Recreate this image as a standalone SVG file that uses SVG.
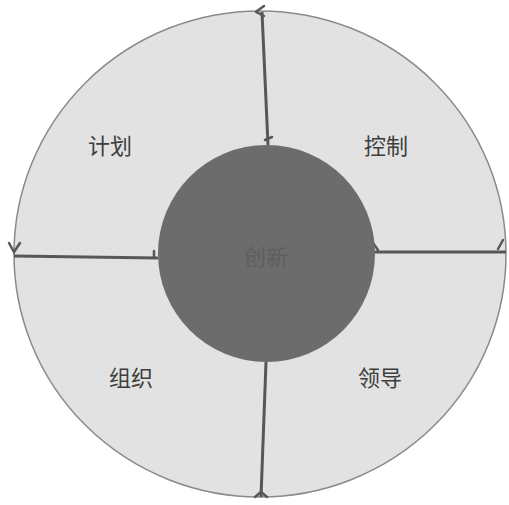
<svg xmlns="http://www.w3.org/2000/svg" width="509" height="505" viewBox="0 0 509 505">
<style>
.lbl{font-family:"Noto Sans CJK SC","Noto Sans",sans-serif;font-size:22px;fill:#3e3e3e;text-anchor:middle}
.ln{stroke:#575757;stroke-width:3;fill:none}
.ah{stroke:#575757;stroke-width:2.5;fill:none;stroke-linecap:round}
</style>
<rect width="509" height="505" fill="#ffffff"/>
<g id="outer">
<ellipse cx="260" cy="254" rx="246" ry="243" fill="#e2e2e2" stroke="#8a8a8a" stroke-width="1.5"/>
</g>
<g id="connectors">
<line class="ln" x1="262" y1="12" x2="268" y2="145"/>
<line class="ln" x1="14" y1="256" x2="158" y2="258"/>
<line class="ln" x1="375" y1="252" x2="506" y2="252"/>
<line class="ln" x1="266" y1="362" x2="261" y2="497"/>
<path class="ah" d="M257 11 L264 6 M256 12 L264 16"/>
<path class="ah" d="M9 243 L14 252 L20 243"/>
<path class="ah" d="M498 249 L503 240"/>
<path class="ah" d="M265 140 L272 137"/>
<path class="ah" d="M154 258 L154 251"/>
<path class="ah" d="M378 250 L373 243"/>
<path class="ah" d="M255 497 L261 492 L267 497"/>
</g>
<g id="inner">
<circle cx="266.5" cy="253.5" r="108.5" fill="#6c6c6c"/>
<text class="lbl" x="266" y="265" style="fill:#5e5e5e">创新</text>
</g>
<g id="plan"><text class="lbl" x="110" y="154">计划</text></g>
<g id="control"><text class="lbl" x="386" y="154">控制</text></g>
<g id="organize"><text class="lbl" x="131" y="386">组织</text></g>
<g id="lead"><text class="lbl" x="380" y="386">领导</text></g>
</svg>
